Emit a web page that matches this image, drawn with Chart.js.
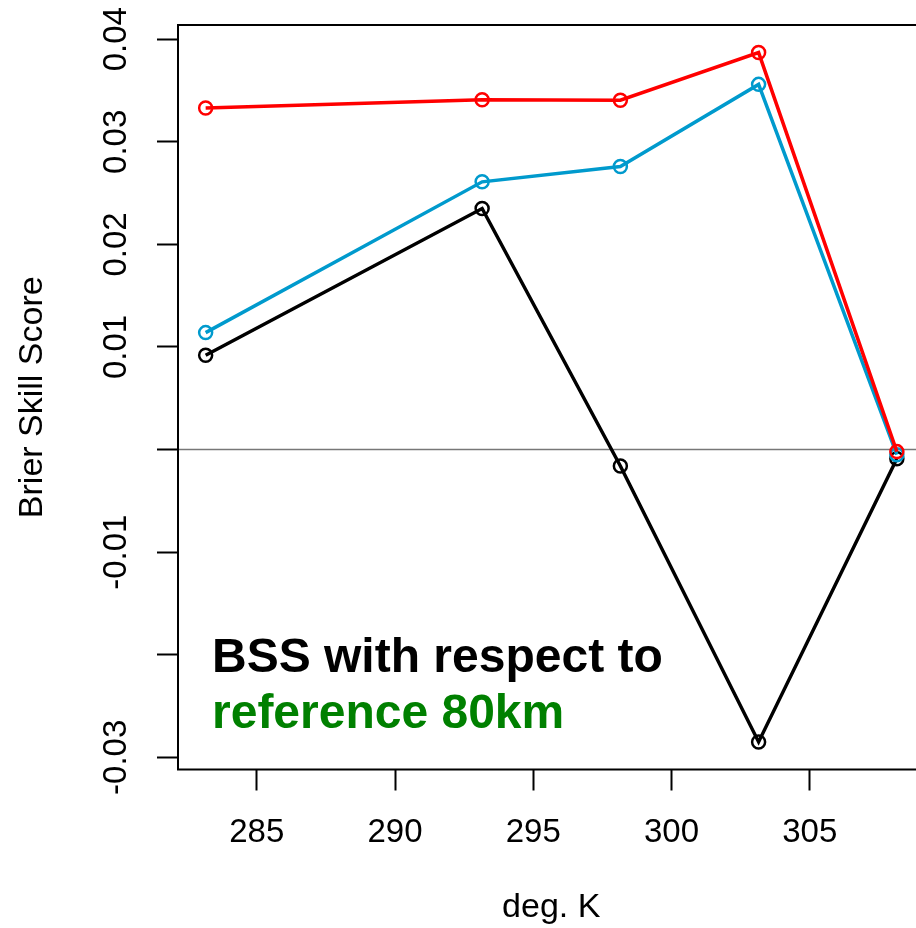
<!DOCTYPE html>
<html>
<head>
<meta charset="utf-8">
<script src="https://cdn.jsdelivr.net/npm/chart.js@4/dist/chart.umd.min.js"></script>
<style>
  html, body { margin: 0; padding: 0; background: #fff; overflow: hidden; width: 916px; height: 928px; }
  #c { position: absolute; left: 0; top: 0; }
</style>
</head>
<body>
<canvas id="c" width="940" height="928"></canvas>
<script>
// ---- data ----
const temperaturesK = [283.15, 293.15, 298.15, 303.15, 308.15];
const bssRed   = [0.0333, 0.0341, 0.03405, 0.0387, -0.0002];
const bssBlue  = [0.0114, 0.0261, 0.0276, 0.0356, -0.0005];
const bssBlack = [0.0092, 0.0235, -0.0016, -0.0285, -0.0009];
const xTickValues = [285, 290, 295, 300, 305];
const yTickValues = [-0.03, -0.02, -0.01, 0, 0.01, 0.02, 0.03, 0.04];
const yTickLabelsShown = ['0.04', '0.03', '0.02', '0.01', '-0.01', '-0.03'];
const annotationLine1 = 'BSS with respect to';
const annotationLine2 = 'reference 80km';

// R-style 4% axis extension
function rRange(vals) {
  const mn = Math.min(...vals), mx = Math.max(...vals);
  const d = (mx - mn) * 0.04;
  return [mn - d, mx + d];
}
const [xMin, xMax] = rRange(temperaturesK);
const [yMin, yMax] = rRange([...bssRed, ...bssBlue, ...bssBlack]);

const FONT = '"Liberation Sans", Arial, Helvetica, sans-serif';

function toXY(ys) { return ys.map((v, i) => ({ x: temperaturesK[i], y: v })); }

function ds(data, color) {
  return {
    data: toXY(data),
    borderColor: color,
    borderWidth: 3.5,
    pointRadius: 6.5,
    pointHoverRadius: 6.5,
    pointBorderWidth: 2.5,
    pointBorderColor: color,
    pointBackgroundColor: 'rgba(0,0,0,0)',
    fill: false,
    tension: 0
  };
}

const decorations = {
  id: 'decorations',
  beforeDatasetsDraw(chart) {
    const { ctx, chartArea: a, scales: { y } } = chart;
    const y0 = y.getPixelForValue(0);
    ctx.save();
    ctx.strokeStyle = '#777777';
    ctx.lineWidth = 1.5;
    ctx.beginPath();
    ctx.moveTo(a.left, y0);
    ctx.lineTo(a.right, y0);
    ctx.stroke();
    ctx.restore();
  },
  afterDatasetsDraw(chart) {
    const { ctx, chartArea: a } = chart;
    ctx.save();
    ctx.strokeStyle = '#000';
    ctx.lineWidth = 2;
    ctx.strokeRect(a.left, a.top, a.right - a.left, a.bottom - a.top);
    ctx.font = 'bold 48px ' + FONT;
    ctx.textAlign = 'left';
    ctx.textBaseline = 'alphabetic';
    ctx.fillStyle = '#000';
    ctx.fillText(annotationLine1, a.left + 34, a.top + 647);
    ctx.fillStyle = '#008000';
    ctx.fillText(annotationLine2, a.left + 34, a.top + 703);
    ctx.restore();
  }
};

new Chart(document.getElementById('c'), {
  type: 'line',
  data: {
    datasets: [ds(bssRed, '#FF0000'), ds(bssBlue, '#009ACD'), ds(bssBlack, '#000000')]
  },
  options: {
    responsive: false,
    animation: false,
    events: [],
    layout: { padding: { top: 25, right: 15.5, left: 0, bottom: 0 } },
    plugins: { legend: { display: false }, tooltip: { enabled: false }, title: { display: false } },
    scales: {
      x: {
        type: 'linear',
        min: xMin,
        max: xMax,
        afterBuildTicks(s) { s.ticks = xTickValues.map(v => ({ value: v })); },
        afterFit(s) { s.height = 158.5; },
        border: { display: false },
        grid: { drawOnChartArea: false, drawTicks: true, tickLength: 21, tickColor: '#000', tickWidth: 2 },
        ticks: {
          autoSkip: false, maxRotation: 0, minRotation: 0,
          color: '#000', padding: 22.5,
          font: { family: FONT, size: 33 },
          callback: v => String(v)
        },
        title: {
          display: true, text: 'deg. K', color: '#000',
          font: { family: FONT, size: 34 },
          padding: { top: 0, bottom: 0 }
        }
      },
      y: {
        type: 'linear',
        min: yMin,
        max: yMax,
        afterBuildTicks(s) { s.ticks = yTickValues.map(v => ({ value: v })); },
        afterFit(s) { s.width = 178; },
        border: { display: false },
        grid: { drawOnChartArea: false, drawTicks: true, tickLength: 21, tickColor: '#000', tickWidth: 2 },
        ticks: {
          autoSkip: false, minRotation: 90, maxRotation: 90,
          crossAlign: 'center',
          color: '#000', padding: 2,
          font: { family: FONT, size: 33 },
          callback: v => {
            const lbl = (Math.round(v * 100) / 100).toFixed(2);
            return yTickLabelsShown.includes(lbl) ? lbl : '';
          }
        },
        title: {
          display: true, text: 'Brier Skill Score', color: '#000',
          font: { family: FONT, size: 34 },
          padding: { top: 12.5, bottom: 0 }
        }
      }
    }
  },
  plugins: [decorations]
});
</script>
</body>
</html>
